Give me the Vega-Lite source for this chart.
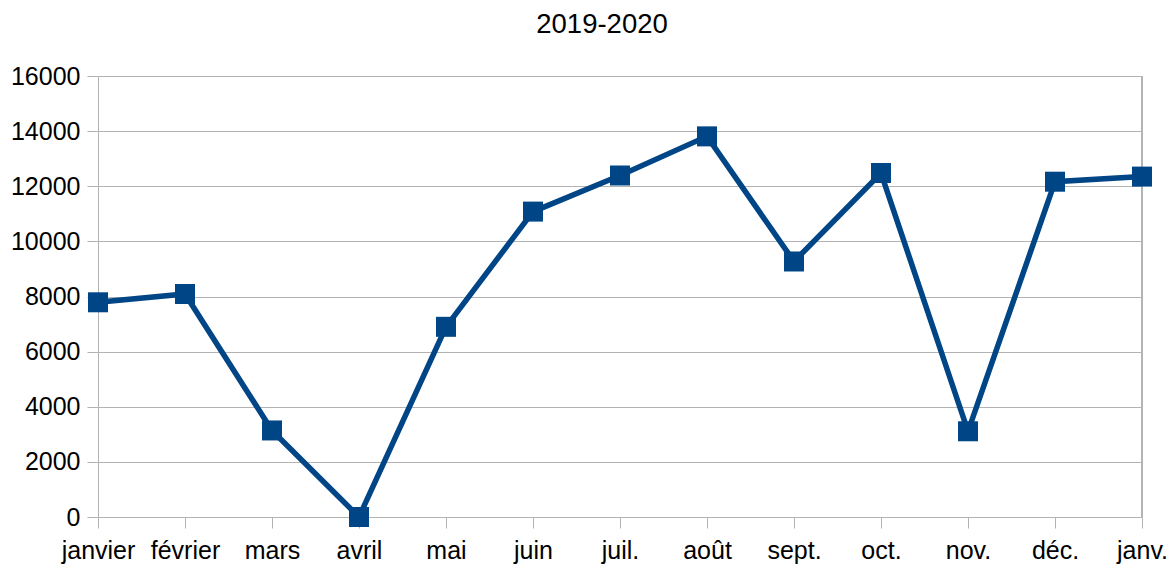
{
  "$schema": "https://vega.github.io/schema/vega-lite/v6.json",
  "autosize": "none",
  "width": 1044,
  "height": 441,
  "padding": {"left": 98, "top": 76, "right": 34, "bottom": 50},
  "background": "white",
  "title": {
    "text": "2019-2020",
    "font": "Liberation Sans",
    "fontSize": 27.5,
    "fontWeight": "normal",
    "color": "#000000",
    "anchor": "middle",
    "dx": -18,
    "offset": 26
  },
  "config": {
    "view": {"stroke": null},
    "font": "Liberation Sans"
  },
  "data": {
    "values": [
      {"mois": "janvier", "valeur": 7790},
      {"mois": "février", "valeur": 8090},
      {"mois": "mars", "valeur": 3140},
      {"mois": "avril", "valeur": 0},
      {"mois": "mai", "valeur": 6900},
      {"mois": "juin", "valeur": 11080},
      {"mois": "juil.", "valeur": 12390},
      {"mois": "août", "valeur": 13810},
      {"mois": "sept.", "valeur": 9270},
      {"mois": "oct.", "valeur": 12480},
      {"mois": "nov.", "valeur": 3110},
      {"mois": "déc.", "valeur": 12165},
      {"mois": "janv.", "valeur": 12350}
    ]
  },
  "layer": [
    {
      "mark": {"type": "rule", "color": "#b3b3b3", "strokeWidth": 1},
      "encoding": {
        "x": {"value": 1044}
      }
    },
    {
      "mark": {"type": "line", "color": "#004586", "strokeWidth": 5.5, "strokeJoin": "miter"},
      "encoding": {
        "x": {
          "field": "mois",
          "type": "ordinal",
          "sort": null,
          "scale": {"type": "point", "padding": 0},
          "axis": {
            "title": null,
            "labelAngle": 0,
            "labelFont": "Liberation Sans",
            "labelFontSize": 25,
            "labelColor": "#000000",
            "labelPadding": 10,
            "labelOverlap": false,
            "labelBound": false,
            "tickSize": 11,
            "tickColor": "#b3b3b3",
            "domainColor": "#b3b3b3",
            "grid": false
          }
        },
        "y": {
          "field": "valeur",
          "type": "quantitative",
          "scale": {"domain": [0, 16000], "nice": false},
          "axis": {
            "title": null,
            "values": [0, 2000, 4000, 6000, 8000, 10000, 12000, 14000, 16000],
            "format": "d",
            "labelFont": "Liberation Sans",
            "labelFontSize": 25,
            "labelColor": "#000000",
            "labelPadding": 7,
            "labelOverlap": false,
            "tickSize": 11,
            "tickColor": "#b3b3b3",
            "domainColor": "#b3b3b3",
            "grid": true,
            "gridColor": "#b3b3b3",
            "gridWidth": 1
          }
        }
      }
    },
    {
      "mark": {"type": "point", "shape": "square", "filled": true, "size": 400, "color": "#004586", "opacity": 1},
      "encoding": {
        "x": {"field": "mois", "type": "ordinal", "sort": null},
        "y": {"field": "valeur", "type": "quantitative"}
      }
    }
  ]
}
